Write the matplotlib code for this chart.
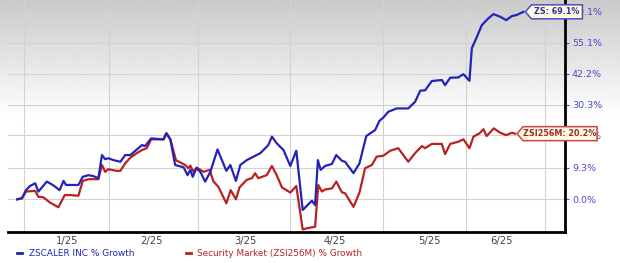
import numpy as np
import matplotlib
matplotlib.use("Agg")
import matplotlib.pyplot as plt
from matplotlib.patches import Polygon

# ---------------- data (trading-session index, % growth) ----------------
zs_x = [0, 1.2, 2.2, 3.2, 4.5, 5.3, 6.2, 7.4, 8.9, 10.6, 11.6, 12.2, 13.7, 15.3, 16.4, 17.8,
        19.1, 20.3, 21.2, 22.0, 22.8, 24.1, 25.8, 27.0, 28.3, 29.3, 30.3, 31.2, 32.0, 33.5,
        36.6, 37.4, 38.3, 39.5, 41.6, 42.6, 43.3, 43.9, 44.8, 45.8, 47.0, 48.3, 50.1, 52.3,
        53.3, 54.7, 55.8, 57.4, 59.1, 60.8, 62.8, 63.7, 64.9, 66.6, 68.3, 69.8, 71.4, 73.7,
        74.5, 75.2, 75.9, 77.0, 78.7, 79.8, 81.2, 82.0, 84.1, 85.6, 87.3, 89.5, 90.6, 91.6,
        92.8, 94.9, 97.8, 99.5, 100.8, 102.0, 103.7, 106.2, 107.0, 108.3, 110.3, 111.6, 113.1,
        113.7, 114.9, 116.2, 117.8, 119.1, 120.8, 122.3, 123.7, 124.9, 126.6]
zs_growth = [0.0, 0.3, 2.6, 3.8, 4.6, 2.2, 3.4, 5.1, 4.1, 2.6, 5.3, 4.1, 4.1, 4.1, 6.5, 7.0,
             6.7, 6.1, 13.2, 11.9, 12.2, 11.6, 11.1, 13.2, 13.2, 14.3, 15.4, 16.4, 16.1, 18.6,
             18.3, 20.3, 18.3, 10.1, 9.4, 7.0, 8.6, 6.5, 9.1, 8.0, 5.1, 8.0, 15.0, 8.3,
             10.1, 5.3, 10.1, 11.6, 12.7, 13.8, 16.4, 19.2, 17.0, 14.8, 9.8, 14.6, -2.95, -0.4,
             -1.6, 11.6, 8.6, 9.8, 10.4, 13.2, 11.4, 11.1, 7.6, 10.6, 19.4, 21.4, 24.6, 25.8,
             27.8, 29.0, 29.0, 31.4, 35.6, 35.7, 39.3, 39.7, 37.7, 40.6, 40.7, 42.0, 39.4,
             52.7, 57.4, 62.9, 66.0, 68.0, 66.8, 65.2, 67.1, 67.6, 69.1]

mkt_x = [0, 1.2, 2.2, 4.5, 5.3, 6.5, 8.2, 10.3, 11.9, 13.2, 15.3, 16.4, 17.8, 20.3, 21.2, 22.0,
         22.8, 24.9, 25.8, 27.0, 28.3, 29.9, 31.2, 32.4, 33.5, 36.6, 37.2, 38.3, 39.7, 42.0,
         42.8, 43.3, 44.1, 44.9, 46.6, 48.1, 49.1, 50.3, 52.3, 53.4, 54.7, 55.6, 57.4, 58.7,
         59.5, 60.3, 62.4, 63.7, 64.9, 66.2, 68.3, 69.8, 71.4, 72.4, 74.5, 75.3, 76.2, 77.0,
         78.7, 79.8, 81.2, 82.0, 84.1, 85.6, 87.0, 88.7, 89.9, 91.6, 93.3, 95.3, 97.8, 99.5,
         101.2, 102.0, 103.7, 106.2, 107.0, 108.3, 110.3, 111.6, 113.1, 114.1, 115.6, 116.6,
         117.4, 119.2, 120.8, 122.3, 123.7, 124.5]
mkt_growth = [0.0, 0.3, 2.2, 2.4, 0.7, 0.6, -0.9, -2.2, 1.2, 1.2, 1.0, 5.3, 5.8, 5.8, 10.1, 8.0,
              8.8, 8.3, 8.3, 10.6, 12.4, 13.8, 14.8, 15.4, 18.3, 18.3, 20.3, 18.3, 11.6, 10.1,
              9.1, 9.9, 8.0, 9.3, 8.0, 8.6, 5.1, 3.6, -1.1, 2.6, 0.0, 3.4, 5.6, 6.1,
              7.6, 6.1, 7.0, 9.8, 7.0, 3.4, 1.9, 3.8, -8.1, -7.8, -7.4, 4.1, 2.2, 2.8,
              3.1, 5.1, 2.0, 1.7, -2.1, 1.9, 9.1, 10.1, 12.7, 13.0, 14.6, 15.4, 11.1, 13.8,
              16.1, 15.4, 16.8, 16.8, 13.5, 16.8, 17.5, 18.3, 15.4, 19.2, 20.3, 21.7,
              19.4, 22.0, 20.5, 19.7, 20.5, 20.2]

series_names = ["ZSCALER INC % Growth", "Security Market (ZSI256M) % Growth"]
tag_texts = ["ZS: 69.1%", "ZSI256M: 20.2%"]

y_ticks = [0.0, 9.3, 19.6, 30.3, 42.2, 55.1, 69.1]
y_ticklabels = ["0.0%", "9.3%", "19.6%", "30.3%", "42.2%", "55.1%", "69.1%"]
month_grid = [1.7, 23.0, 45.2, 68.2, 91.4, 112.2, 131.9]
month_centers = [12.4, 33.7, 57.0, 79.4, 103.2, 121.2]
month_labels = ["1/25", "2/25", "3/25", "4/25", "5/25", "6/25"]

BLUE = "#2323b8"
RED = "#b82222"

W, H = 620, 263
fig = plt.figure(figsize=(W / 100, H / 100), dpi=100)
fig.patch.set_facecolor("white")

# background vertical gradient (gray at top fading to white)
bg = fig.add_axes([0, 0, 1, 1], zorder=-5)
rows = np.arange(H)
shade = np.clip(0.79 + (1.0 - 0.79) * rows / 118.0, 0, 1)
img = np.repeat(shade[:, None], 4, axis=1)
bg.imshow(img, cmap="gray", vmin=0, vmax=1, aspect="auto", extent=[0, 1, 0, 1],
          interpolation="bilinear")
bg.axis("off")

ax = fig.add_axes([8 / W, 1 - 232 / H, (565 - 8) / W, 232 / H])
ax.set_facecolor("none")

fwd = lambda v: np.log1p(np.asarray(v) / 100.0)
inv = lambda u: np.expm1(np.asarray(u)) * 100.0
ax.set_yscale("function", functions=(fwd, inv))

l1, = ax.plot(zs_x, zs_growth, color=BLUE, lw=1.6, solid_joinstyle="round", zorder=3)
l2, = ax.plot(mkt_x, mkt_growth, color=RED, lw=1.6, solid_joinstyle="round", zorder=2)

ax.set_xlim(-2.3, 137)
ax.set_ylim(-8.75, 74.8)

for s in ["top", "left"]:
    ax.spines[s].set_visible(False)
for s in ["right", "bottom"]:
    ax.spines[s].set_linewidth(2.0)
    ax.spines[s].set_color("black")

ax.yaxis.tick_right()
ax.set_yticks(y_ticks)
ax.set_yticklabels(y_ticklabels)
ax.tick_params(axis="y", which="both", length=3, width=0.8, colors="#4c4cc6",
               labelsize=6.8, pad=2)
ax.yaxis.set_minor_locator(matplotlib.ticker.NullLocator())

ax.set_xticks(month_grid)
ax.set_xticklabels([""] * len(month_grid))
ax.set_xticks(month_centers, minor=True)
ax.set_xticklabels(month_labels, minor=True)
ax.tick_params(axis="x", which="both", length=0, labelsize=7.2, labelcolor="#444444", pad=3)

ax.grid(True, which="major", color="#d2d2d2", lw=0.8)
ax.set_axisbelow(True)

# legend below the chart
leg = fig.legend([l1, l2], series_names, loc="center left",
                 bbox_to_anchor=(17 / W, 1 - 253.5 / H), ncol=2, frameon=False,
                 fontsize=6.4, handlelength=0.55, handletextpad=0.75, columnspacing=5.8,
                 labelcolor="linecolor", borderaxespad=0, borderpad=0)
for h in leg.legend_handles:
    h.set_linewidth(2.0)

# end-of-line tags
fig_inv = fig.transFigure.inverted()


def tag(xd, yd, text, edge, txtcol, width):
    tx, ty = ax.transData.transform((xd, yd))
    tx += 2
    hh = 7
    notch = 6
    pts_px = [(tx, ty), (tx + notch, ty + hh), (tx + notch + width, ty + hh),
              (tx + notch + width, ty - hh), (tx + notch, ty - hh)]
    pts = fig_inv.transform(pts_px)
    poly = Polygon(pts, closed=True, facecolor="#fffbe3", edgecolor=edge, lw=1.1,
                   transform=fig.transFigure, zorder=5)
    fig.add_artist(poly)
    cx, cy = fig_inv.transform((tx + notch + width / 2, ty))
    fig.text(cx, cy, text, ha="center", va="center", fontsize=5.8, fontweight="bold",
             color=txtcol, zorder=6)


tag(zs_x[-1], zs_growth[-1], tag_texts[0], "#4e4ec4", "#34349a", 51)
tag(mkt_x[-1], mkt_growth[-1], tag_texts[1], "#cc4444", "#a02a2a", 74)

fig.savefig("out.png", dpi=100)
